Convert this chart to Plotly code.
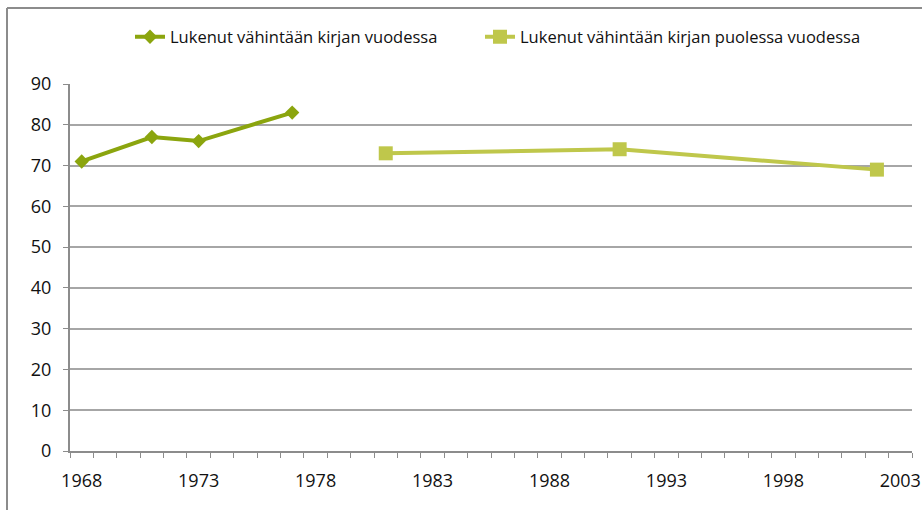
import plotly.graph_objects as go

years_a = [1968, 1971, 1973, 1977]
vals_a = [71, 77, 76, 83]
years_b = [1981, 1991, 2002]
vals_b = [73, 74, 69]
name_a = "Lukenut vähintään kirjan vuodessa"
name_b = "Lukenut vähintään kirjan puolessa vuodessa"
x_ticks = [1968, 1973, 1978, 1983, 1988, 1993, 1998, 2003]
y_ticks = [0, 10, 20, 30, 40, 50, 60, 70, 80, 90]

col_a = "#8BA50E"
col_b = "#BFC74B"

W, H = 922, 510
L, R, T, B = 70, 10, 84, 59
pw = W - L - R
ph = H - T - B


def px_x(p):
    return (p - L) / pw


def px_y(p):
    return (H - B - p) / ph


fig = go.Figure()
fig.add_trace(go.Scatter(
    x=years_a, y=vals_a, name=name_a, mode="lines+markers",
    line=dict(color=col_a, width=4),
    marker=dict(symbol="diamond", size=11, color=col_a),
    legend="legend",
))
fig.add_trace(go.Scatter(
    x=years_b, y=vals_b, name=name_b, mode="lines+markers",
    line=dict(color=col_b, width=4),
    marker=dict(symbol="square", size=14, color=col_b),
    legend="legend2",
))

leg_common = dict(
    orientation="h", yanchor="middle", xanchor="left",
    font=dict(size=16.5, color="#111111"), bgcolor="rgba(0,0,0,0)",
)

fig.update_layout(
    width=W, height=H,
    margin=dict(l=L, r=R, t=T, b=B, autoexpand=False),
    paper_bgcolor="white", plot_bgcolor="white",
    font=dict(family="Open Sans", size=18, color="#111111"),
    showlegend=True,
    legend=dict(x=px_x(130), y=px_y(37), **leg_common),
    legend2=dict(x=px_x(480), y=px_y(37), **leg_common),
    xaxis=dict(
        range=[1967.5, 2003.5], tickvals=x_ticks, ticktext=[str(v) for v in x_ticks],
        showgrid=False, zeroline=False, showline=True, linecolor="#8c8c8c", linewidth=2,
        ticks="", tickfont=dict(size=18), ticklabelstandoff=12,
        minor=dict(tick0=1967.5, dtick=1, ticks="outside", ticklen=5,
                   tickcolor="#8c8c8c", tickwidth=1, showgrid=False),
    ),
    yaxis=dict(
        range=[0, 90], tickvals=y_ticks, showgrid=True, gridcolor="#a6a6a6", gridwidth=1.5,
        zeroline=False, showline=True, linecolor="#8c8c8c", linewidth=2,
        ticks="outside", ticklen=5, tickcolor="#8c8c8c", tickfont=dict(size=18),
        ticklabelstandoff=8,
    ),
    shapes=[
        dict(type="line", xref="paper", yref="paper", x0=px_x(7), x1=px_x(930),
             y0=px_y(8), y1=px_y(8), line=dict(color="#8c8c8c", width=2)),
        dict(type="line", xref="paper", yref="paper", x0=px_x(7), x1=px_x(7),
             y0=px_y(8), y1=px_y(520), line=dict(color="#8c8c8c", width=2)),
    ],
)

fig.write_html(
    "out.html",
    config={"displayModeBar": False},
    post_script="document.body.style.margin='0';document.body.style.overflow='hidden';",
)
